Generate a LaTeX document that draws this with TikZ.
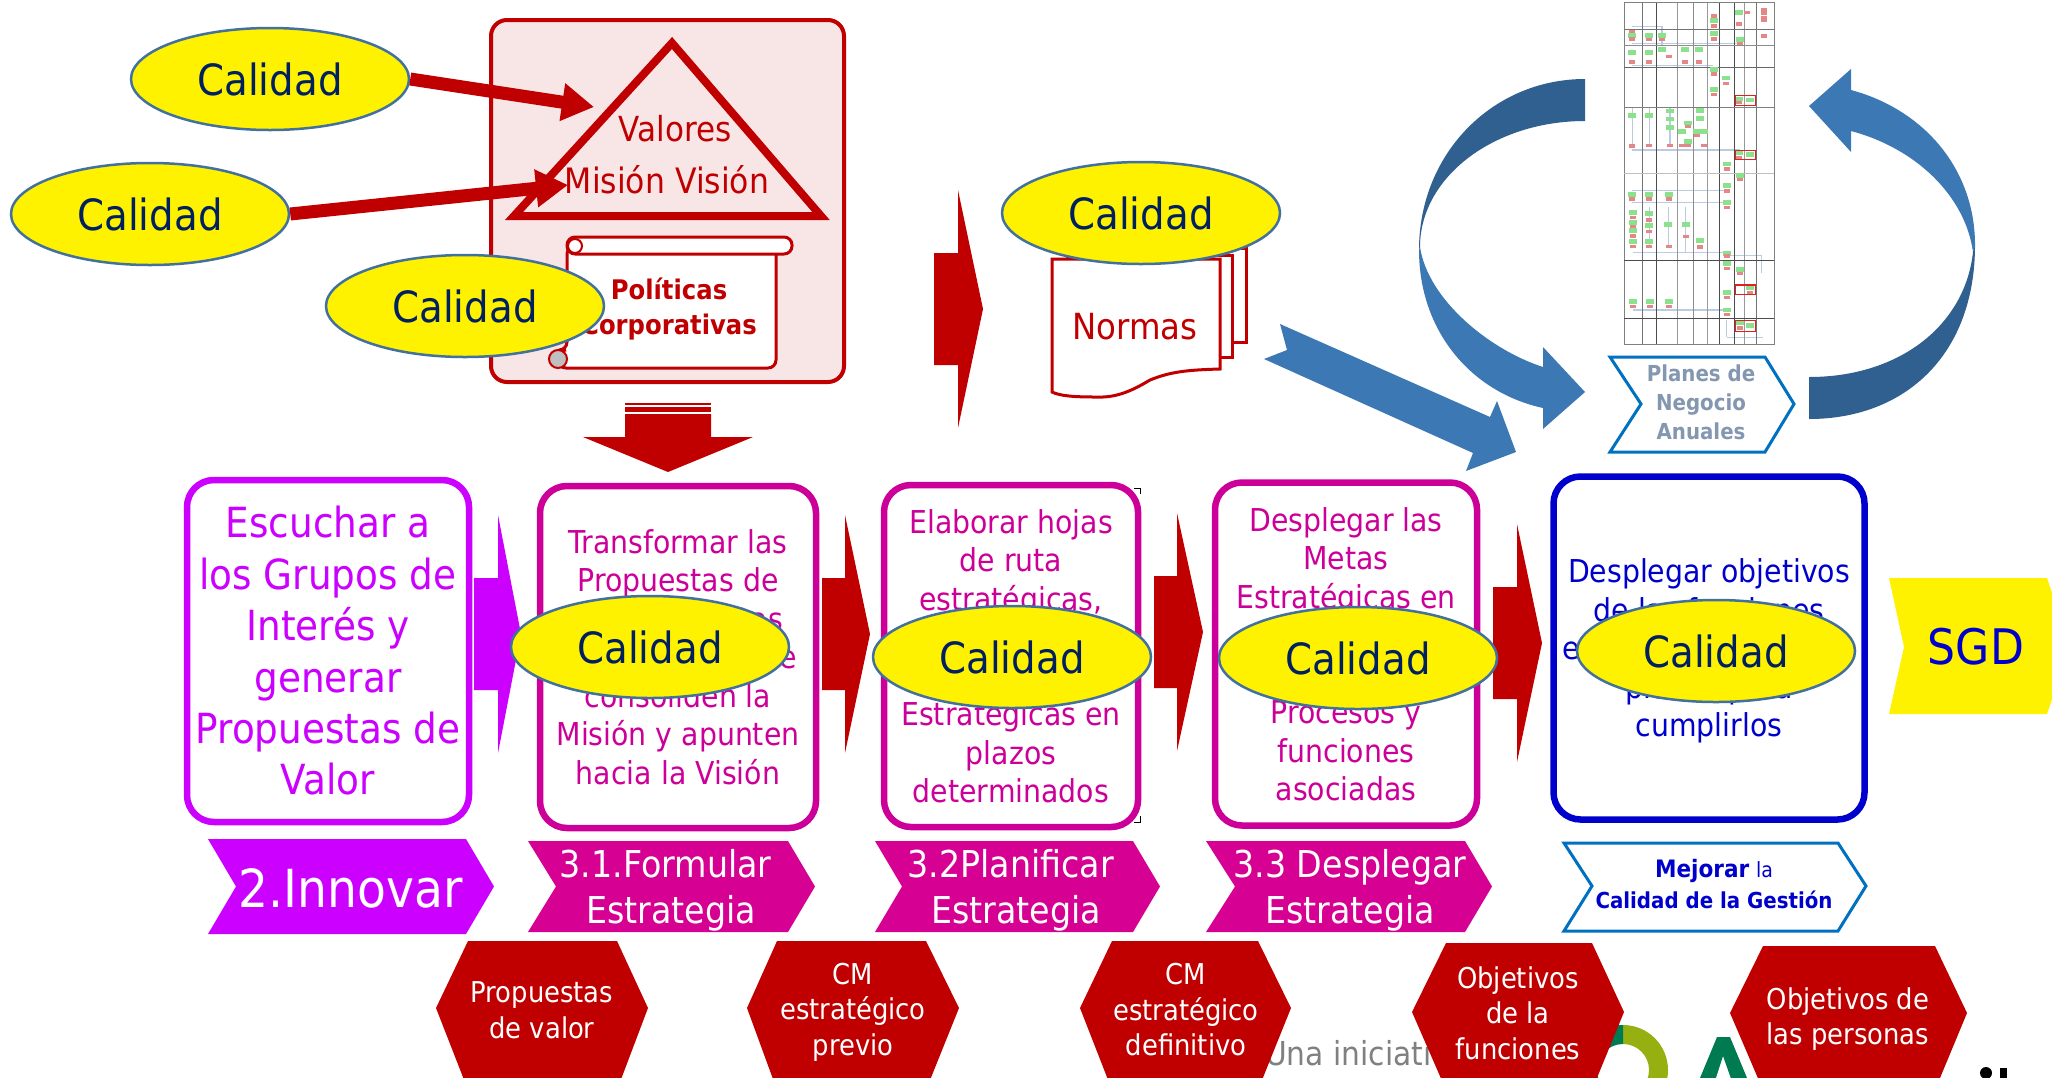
\documentclass[tikz,border=0pt]{standalone}
\usepackage{fontspec}
\usepackage{xcolor}
\setmainfont[FakeStretch=0.9]{DejaVu Sans}
\usetikzlibrary{arrows.meta,shapes.geometric}
\definecolor{CRed}{RGB}{192,0,0}
\definecolor{CPink}{RGB}{248,229,229}
\definecolor{CViolet}{RGB}{204,0,255}
\definecolor{CMagenta}{RGB}{204,0,153}
\definecolor{CTag}{RGB}{214,0,147}
\definecolor{CBlue}{RGB}{0,0,204}
\definecolor{CNavy}{RGB}{0,32,96}
\definecolor{CEdge}{RGB}{65,113,156}
\definecolor{CSteel}{RGB}{59,120,180}
\definecolor{CDark}{RGB}{47,96,144}
\definecolor{CLine}{RGB}{0,112,192}
\definecolor{CGrey}{RGB}{132,151,176}
\definecolor{CGreen}{RGB}{0,122,80}
\definecolor{COlive}{RGB}{149,176,16}
\definecolor{CThumbG}{RGB}{140,225,140}
\definecolor{CThumbR}{RGB}{228,135,135}
\definecolor{CThumbL}{RGB}{188,203,226}
\tikzset{
    calidad/.style={ellipse,draw=CEdge,line width=2.5pt,fill=yellow,inner sep=0pt,
        minimum width=278pt,minimum height=102pt,text=CNavy,font=\fontsize{43}{50}\selectfont},
    procbox/.style={draw=#1,text=#1,line width=6.5pt,rounded corners=27pt,fill=white,align=center,
        inner sep=0pt,font=\fontsize{31.5}{38.5}\selectfont},
    tagtext/.style={text=white,align=center,inner sep=0pt,font=\fontsize{37}{46}\selectfont},
    hextext/.style={text=white,align=center,inner sep=0pt,font=\fontsize{28.7}{35.5}\selectfont},
    thick arrow/.style={draw=CRed,line width=13pt,-{Triangle[length=32pt,width=36pt]}},
}
\begin{document}
\begin{tikzpicture}[x=1pt,y=-1pt]
    \useasboundingbox (0,0) rectangle (2052,1077);
    \clip (0,0) rectangle (2052,1077);

    % top block
    \draw [CRed,fill=CPink,line width=4pt,rounded corners=16pt] (491,20) rectangle (844,382);
    \draw [CRed,line width=8pt,miter limit=10] (672,43) -- (821,216) -- (514,216) -- cycle;
    \node [text=CRed,inner sep=0pt,font=\fontsize{34.5}{42}\selectfont] (valores) at (675,129) {Valores};
    \node [text=CRed,inner sep=0pt,font=\fontsize{35}{42}\selectfont] (mision) at (667,180) {Misión Visión};

    % scroll
    \draw [CRed,line width=3pt,fill=white,rounded corners=8pt] (567,246) -- (776,246) -- (776,368) -- (558,368) -- (558,350) -- (567,350) -- cycle;
    \draw [CRed,line width=3pt,fill=white,rounded corners=8pt] (567,237) rectangle (792,254);
    \draw [CRed,line width=2pt,fill=white] (575,246) circle (7);
    \draw [CRed,line width=2pt,fill=lightgray] (558,359) circle (9);
    \node [text=CRed,inner sep=0pt,align=center,font=\bfseries\fontsize{27}{35}\selectfont] (politicas)
        at (669,309) {Políticas\\Corporativas};

    % bottom arrow of the block
    \fill [CRed] (625,403) rectangle (711,405);
    \fill [CRed] (625,407) rectangle (711,412);
    \fill [CRed] (625,414) -- (711,414) -- (711,437) -- (753,437) -- (668,472) -- (583,437) -- (625,437) -- cycle;

    % tall block arrows
    \foreach \xa/\xb/\xc/\ymid/\col in {934/958/983/309/CRed,
                                        474/498/521/634/CViolet,
                                        822/845/870/634/CRed,
                                        1154/1177/1203/632/CRed,
                                        1493/1517/1542/643/CRed}{
        \fill [\col] (\xa,\ymid-56) -- (\xb,\ymid-56) -- (\xb,\ymid-119) -- (\xc,\ymid)
            -- (\xb,\ymid+119) -- (\xb,\ymid+56) -- (\xa,\ymid+56) -- cycle;
    }

    % normas
    \draw [CRed,line width=3pt,fill=white] (1080,248) rectangle (1246,342);
    \draw [CRed,line width=3pt,fill=white] (1067,255) rectangle (1232,357);
    \draw [CRed,line width=3pt,fill=white] (1052,392) -- (1052,259) -- (1220,259) -- (1220,369)
        .. controls (1185,370) and (1170,372) .. (1150,380)
        .. controls (1130,392) and (1115,398) .. (1095,397)
        .. controls (1075,397) and (1060,396) .. (1052,392) -- cycle;
    \node [text=CRed,inner sep=0pt,font=\fontsize{36}{42}\selectfont] (normas) at (1135,327) {Normas};

    % diagonal arrow
    \fill [CSteel] (1280,324) -- (1287,350) -- (1264,359) -- (1473,453) -- (1466,471)
        -- (1516,452) -- (1497,401) -- (1490,417) -- cycle;

    % plan thumbnail
    \begin{scope}[shift={(1600,0)},x=0.3333pt,y=-0.3333pt]
        \foreach \x/\y/\xx/\yy in {95/80/188/80,186/80/186/135,95/130/420/130,95/197/340/197,
                                   97/450/420/450,97/320/97/440,148/320/148/440,210/320/210/440,
                                   97/572/382/572,97/607/382/607,148/620/148/740,206/620/206/740,
                                   257/620/257/755,98/757/380/757,380/766/485/766,485/766/485/820,
                                   100/930/380/930,380/960/380/1010,380/1013/490/1013}{
            \draw [CThumbL,line width=1.6pt] (\x,\y) -- (\xx,\yy);
        }
        \draw [gray,line width=1.5pt] (73,8) rectangle (523,1033);
        \foreach \xl/\sh in {127/55,170/70,233/40,280/45,323/40,358/70,403/70,433/40,468/55}{
            \draw [black!\sh,line width=1pt] (\xl,8) -- (\xl,1033);
        }
        \foreach \yl/\sh in {88/55,136/45,202/60,322/50,520/25,781/70,957/70}{
            \draw [black!\sh,line width=1pt] (73,\yl) -- (523,\yl);
        }
        \foreach \x/\y in {418/37,343/62,95/107,148/107,186/107,343/100,420/118,95/157,148/157,186/148,
                           256/149,297/149,341/209,379/234,343/268,418/297,450/300,96/346,148/346,210/333,
                           210/357,210/383,265/369,300/332,300/355,247/394,292/394,311/394,265/424,418/459,
                           451/464,380/492,421/527,382/557,97/584,146/584,206/584,382/607,98/638,148/640,
                           98/667,148/676,98/692,148/724,98/725,205/673,257/673,300/722,380/760,381/790,
                           420/808,450/862,380/878,100/905,150/905,208/905,380/930,419/969,450/977}{
            \fill [CThumbG] (\x-12,\y-7) rectangle (\x+12,\y+7);
        }
        \foreach \x/\y in {343/48,343/78,418/72,442/37,492/30,492/40,492/52,492/62,95/95,95/117,148/119,
                           186/119,343/117,420/130,492/108,95/186,148/186,206/170,256/186,297/186,341/222,
                           379/251,343/283,418/308,97/438,148/437,210/437,247/437,265/437,311/437,265/380,
                           292/406,418/473,380/507,421/539,382/573,97/597,146/597,206/597,382/622,98/653,
                           148/660,98/680,148/694,98/708,148/740,98/740,206/740,257/709,300/741,380/768,
                           381/806,420/820,450/878,380/892,100/920,150/920,208/920,380/943,419/984}{
            \fill [CThumbR] (\x-9,\y-5) rectangle (\x+9,\y+5);
        }
        \draw [red!75!gray,line width=1.2pt] (407,287) rectangle (467,316);
        \draw [red!75!gray,line width=1.2pt] (407,451) rectangle (467,479);
        \draw [red!75!gray,line width=1.2pt] (407,855) rectangle (467,884);
        \draw [red!75!gray,line width=1.2pt] (407,962) rectangle (467,994);
    \end{scope}

    % cycle arrows
    \fill [CDark] (1585,79) .. controls (1493,79) and (1419,153) .. (1419,250)
        -- (1420,247) .. controls (1420,177) and (1494,121) .. (1585,121) -- cycle;
    \fill [CSteel] (1419,250) .. controls (1419,330) and (1470,392) .. (1543,408)
        -- (1543,429) -- (1585,392) -- (1543,347) -- (1543,367)
        .. controls (1490,350) and (1428,300) .. (1420,247) -- cycle;
    \fill [CSteel] (1975,245) .. controls (1975,170) and (1925,110) .. (1851,90)
        -- (1851,69) -- (1809,106) -- (1851,152) -- (1851,131)
        .. controls (1915,148) and (1965,195) .. (1973,252) -- cycle;
    \fill [CDark] (1975,245) .. controls (1975,355) and (1905,419) .. (1809,419)
        -- (1809,377) .. controls (1900,377) and (1965,325) .. (1973,252) -- cycle;

    % planes
    \draw [CLine,line width=3pt,fill=white] (1610,357) -- (1765,357) -- (1794,404) -- (1765,452)
        -- (1610,452) -- (1641,404) -- cycle;
    \node [text=CGrey,inner sep=0pt,align=center,font=\bfseries\fontsize{22}{29}\selectfont] (planes)
        at (1701,402) {Planes de\\Negocio\\Anuales};

    % process boxes
    \node [procbox=CViolet,minimum width=282pt,minimum height=342pt,font=\fontsize{41.5}{51.4}\selectfont] (escuchar)
        at (328,651) {Escuchar a\\los Grupos de\\Interés y\\generar\\Propuestas de\\Valor};
    \node [procbox=CMagenta,minimum width=276pt,minimum height=342pt] (formular)
        at (678,657) {Transformar las\\Propuestas de\\Valor en Metas\\Estratégicas que\\consoliden la\\Misión y apunten\\hacia la Visión};
    \node [procbox=CMagenta,minimum width=254pt,minimum height=342pt] (planificar)
        at (1011,656) {Elaborar hojas\\de ruta\\estratégicas,\\con las\\Metas\\Estratégicas en\\plazos\\determinados};
    \node [procbox=CMagenta,minimum width=262pt,minimum height=343pt] (desplegar)
        at (1346,654) {Desplegar las\\Metas\\Estratégicas en\\los\\Procesos\\Procesos y\\funciones\\asociadas};
    \node [procbox=CBlue,minimum width=311pt,minimum height=343pt] (mejorar) at (1709,648) {};
    \node [text=CBlue,inner sep=0pt,align=center,font=\fontsize{31.5}{38.5}\selectfont] (mejorartext)
        at (1709,651) {Desplegar objetivos\\de las funciones\\en las personas y en\\planes para\\cumplirlos};
    \draw [black,line width=.8pt] (1134,488) -- (1140,488) -- (1140,494);
    \draw [black,line width=.8pt] (1134,822) -- (1140,822) -- (1140,816);

    % sgd
    \fill [yellow] (1889,578) -- (2047,578) -- (2070,647) -- (2047,714) -- (1889,714) -- (1904,647) -- cycle;
    \node [text=CBlue,inner sep=0pt,font=\fontsize{49}{55}\selectfont] (sgd) at (1976,647) {SGD};

    % tags
    \foreach \xl/\xn/\xt/\xr/\ya/\yb/\col in {208/236/466/494/839/934/CViolet,
                                              528/556/788/815/841/932/CTag,
                                              875/902/1133/1160/841/932/CTag,
                                              1206/1235/1465/1492/841/932/CTag}{
        \fill [\col] (\xl,\ya) -- (\xt,\ya) -- (\xr,886.5) -- (\xt,\yb) -- (\xl,\yb) -- (\xn,886.5) -- cycle;
    }
    \node [tagtext,font=\fontsize{52.5}{60}\selectfont] (innovar) at (351,888) {2.Innovar};
    \node [tagtext] (tagform) at (671,890) {3.1.Formular~\mbox{}\\Estrategia};
    \node [tagtext] (tagplan) at (1016,890) {3.2Planificar~\mbox{}\\Estrategia};
    \node [tagtext] (tagdesp) at (1350,890) {3.3 Desplegar\\Estrategia};
    \draw [CLine,line width=3pt,fill=white] (1564,843) -- (1838,843) -- (1866,886) -- (1838,931)
        -- (1564,931) -- (1592,886) -- cycle;
    \node [text=CBlue,inner sep=0pt,align=center,font=\bfseries\fontsize{22}{31}\selectfont] (tagmejora)
        at (1714,884) {{\fontsize{24}{31}\selectfont Mejorar} {\mdseries\fontsize{21}{31}\selectfont la}\\Calidad de la Gestión};

    % logo behind the hexagons
    \node [text=gray,inner sep=0pt,anchor=west,font=\fontsize{33}{40}\selectfont] (iniciativa) at (1265,1053) {Una iniciati};
    \begin{scope}
        \clip (1623,1000) rectangle (1700,1077);
        \fill [COlive,even odd rule] (1623,1070) circle (45) circle (26);
    \end{scope}
    \begin{scope}
        \clip (1570,1000) rectangle (1623,1077);
        \fill [CGreen,even odd rule] (1623,1070) circle (45) circle (26);
    \end{scope}
    \fill [CGreen] (1717,1037) -- (1730,1037) -- (1752,1090) -- (1735,1090) -- (1723,1056) -- (1712,1090) -- (1695,1090) -- cycle;
    \fill [black] (1986,1073) circle (6);
    \fill [black] (2000,1068) rectangle (2007,1080);

    % hexagons
    \foreach \xl/\xa/\xb/\xr/\ya/\ym/\yb in {436/468/617/648/941/1008/1090,
                                             747/777/926/959/941/1008/1090,
                                             1080/1112/1258/1291/941/1008/1090,
                                             1412/1446/1592/1624/943/1012/1090,
                                             1730/1763/1935/1967/946/1013/1090}{
        \fill [CRed] (\xa,\ya) -- (\xb,\ya) -- (\xr,\ym) -- (\xb,\yb) -- (\xa,\yb) -- (\xl,\ym) -- cycle;
    }
    \node [hextext] (hexprop) at (542,1010) {Propuestas\\de valor};
    \node [hextext] (hexprev) at (853,1012) {CM\\estratégico\\previo};
    \node [hextext] (hexdefi) at (1186,1010) {CM\\estratégico\\definitivo};
    \node [hextext] (hexfunc) at (1518,1013) {Objetivos\\de la\\funciones};
    \node [hextext] (hexpers) at (1848,1019) {Objetivos de\\las personas};

    % calidad ovals
    \foreach \nm/\cx/\cy in {ovaluno/270/79,
                             ovaldos/150/214,
                             ovaltres/465/306,
                             ovalnormas/1141/213,
                             ovalform/650/647,
                             ovalplan/1012/657,
                             ovaldesp/1358/658,
                             ovalmejora/1716/651}{
        \node [calidad] (\nm) at (\cx,\cy) {Calidad};
    }

    \coordinate (tipuno) at (594,107);
    \coordinate (tipdos) at (568,185);
    \draw [thick arrow] (ovaluno.east) -- (tipuno);
    \draw [thick arrow] (ovaldos.east) -- (tipdos);
\end{tikzpicture}
\end{document}
